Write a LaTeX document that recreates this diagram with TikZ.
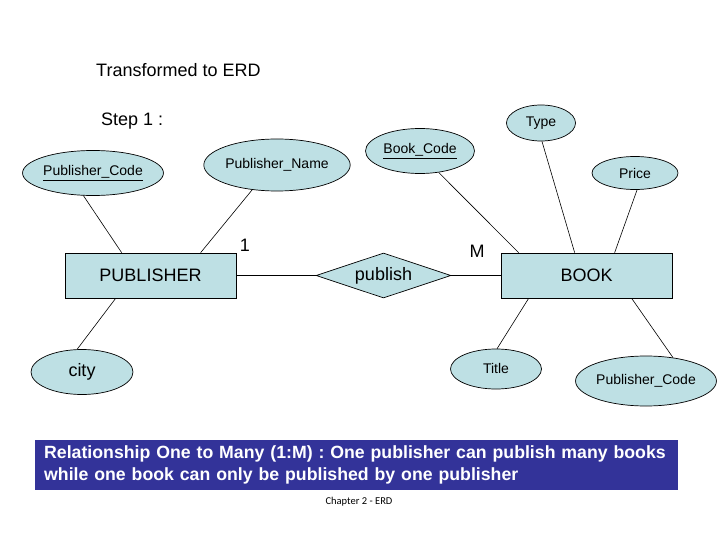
\documentclass[tikz,border=0pt]{standalone}
\usepackage{fontspec}
\setmainfont{Liberation Sans}
\newfontfamily\carlito{Carlito}
\usetikzlibrary{shapes.geometric}
\definecolor{erdfill}{RGB}{190,224,228}
\definecolor{banner}{RGB}{51,51,153}
\tikzset{
  attr/.style={ellipse, draw=black, fill=erdfill, line width=0.7pt, inner sep=0pt, font=\fontsize{14}{15}\selectfont},
  entity/.style={rectangle, draw=black, fill=erdfill, line width=0.7pt, minimum width=171pt, minimum height=45pt, inner sep=0pt, font=\fontsize{18}{20}\selectfont},
  rel/.style={diamond, draw=black, fill=erdfill, line width=0.7pt, shape aspect=3, minimum width=135pt, minimum height=45pt, inner sep=0pt, font=\fontsize{18}{20}\selectfont},
  conn/.style={draw=black, line width=0.6pt},
  lbl/.style={inner sep=0pt, font=\fontsize{18}{20}\selectfont},
}
\begin{document}
\begin{tikzpicture}[x=1pt,y=-1pt]
\useasboundingbox (0,0) rectangle (720,540);
\fill[white] (0,0) rectangle (720,540);

\node[lbl, anchor=west] (head) at (96,70) {Transformed to ERD};
\node[lbl, anchor=west] (step) at (101,121) {Step 1 :};

% entities and relationship
\node[entity] (pub) at (150.5,275.5) {PUBLISHER};
\node[entity] (book) at (586.5,275.5) {BOOK};
\node[rel] (rl) at (383.5,275.5) {publish};

% attributes
\node[attr, minimum width=125pt, minimum height=45pt] (pcL) at (93,173) {\underline{Publisher\_Code}};
\node[attr, minimum width=119pt, minimum height=52pt] (pn) at (277,165) {Publisher\_Name};
\node[attr, minimum width=102pt, minimum height=45pt, font=\fontsize{18}{20}\selectfont] (city) at (82,372) {city};
\node[attr, minimum width=109pt, minimum height=45pt] (bc) at (420,151) {\underline{Book\_Code}};
\node[attr, minimum width=69pt, minimum height=36pt] (type) at (541,123) {Type};
\node[attr, minimum width=86pt, minimum height=33pt] (price) at (635,173) {Price};
\node[attr, minimum width=91pt, minimum height=40pt] (title) at (496,369) {\raisebox{1pt}{Title}};
\node[attr, minimum width=120pt, minimum height=50pt] (pcR) at (646,381) {Publisher\_Code};

% cardinalities
\node[lbl] (one) at (245,245) {1};
\node[lbl] (many) at (477,251) {M};

% connectors
\draw[conn] (pcL.247) -- ([xshift=57pt]pub.north west);
\draw[conn] (pn.225) -- ([xshift=136pt]pub.north west);
\draw[conn] (city.102) -- ([xshift=51pt]pub.south west);
\draw[conn] (pub.east) -- (rl.west);
\draw[conn] (rl.east) -- (book.west);
\draw[conn] (bc.311) -- ([xshift=18pt]book.north west);
\draw[conn] (type.273) -- ([xshift=74pt]book.north west);
\draw[conn] (price.277) -- ([xshift=114pt]book.north west);
\draw[conn] (title.87) -- ([xshift=28pt]book.south west);
\draw[conn] (pcR.41) -- ([xshift=131pt]book.south west);

% banner
\node[fill=banner, anchor=north west, minimum width=643pt, minimum height=50pt, inner xsep=9pt, inner ysep=0pt,
      text width=625pt, align=left, text=white, font=\bfseries\fontsize{17.7}{22}\selectfont] (note) at (35,440)
  {Relationship One to Many (1:M) : One publisher can publish many books\\while one book can only be published by one publisher};

\node[inner sep=0pt, font=\carlito\fontsize{10.5}{12}\selectfont] (chap) at (359,502) {Chapter 2 - ERD};
\end{tikzpicture}
\end{document}
